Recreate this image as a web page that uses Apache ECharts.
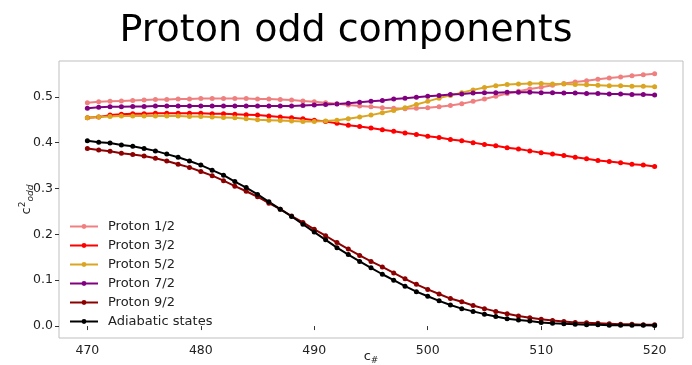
<!DOCTYPE html>
<html><head><meta charset="utf-8">
<script src="https://cdn.jsdelivr.net/npm/echarts@6/dist/echarts.min.js"></script>
<style>html,body{margin:0;padding:0;background:#fff}#c{width:692px;height:365px}</style>
</head><body><div id="c"></div>
<script>
var cValues = [470,471,472,473,474,475,476,477,478,479,480,481,482,483,484,485,486,487,488,489,490,491,492,493,494,495,496,497,498,499,500,501,502,503,504,505,506,507,508,509,510,511,512,513,514,515,516,517,518,519,520];
var proton12 = [0.487,0.489,0.490,0.491,0.492,0.493,0.494,0.494,0.495,0.495,0.496,0.496,0.496,0.496,0.496,0.495,0.495,0.494,0.493,0.491,0.489,0.487,0.485,0.482,0.480,0.478,0.476,0.475,0.474,0.475,0.476,0.478,0.481,0.485,0.490,0.495,0.501,0.507,0.512,0.517,0.521,0.525,0.529,0.532,0.535,0.538,0.541,0.543,0.546,0.548,0.550];
var proton32 = [0.454,0.456,0.460,0.462,0.463,0.463,0.464,0.464,0.464,0.464,0.464,0.463,0.463,0.462,0.461,0.460,0.458,0.456,0.454,0.452,0.449,0.446,0.442,0.438,0.435,0.432,0.428,0.425,0.421,0.418,0.414,0.411,0.407,0.404,0.400,0.396,0.393,0.389,0.386,0.382,0.378,0.375,0.372,0.368,0.365,0.361,0.359,0.356,0.353,0.351,0.348];
var proton52 = [0.454,0.456,0.457,0.458,0.458,0.458,0.458,0.458,0.458,0.457,0.457,0.456,0.455,0.454,0.452,0.450,0.449,0.448,0.447,0.446,0.446,0.447,0.449,0.452,0.456,0.460,0.465,0.470,0.476,0.483,0.490,0.497,0.503,0.509,0.515,0.520,0.524,0.527,0.528,0.529,0.529,0.528,0.528,0.527,0.526,0.525,0.524,0.524,0.523,0.523,0.522];
var proton72 = [0.475,0.477,0.478,0.478,0.479,0.479,0.480,0.480,0.480,0.480,0.480,0.480,0.480,0.480,0.480,0.480,0.480,0.480,0.480,0.481,0.482,0.483,0.484,0.486,0.488,0.490,0.492,0.495,0.497,0.499,0.501,0.503,0.505,0.506,0.508,0.509,0.509,0.510,0.510,0.510,0.509,0.509,0.508,0.508,0.507,0.507,0.506,0.506,0.505,0.505,0.504];
var proton92 = [0.387,0.384,0.381,0.377,0.374,0.371,0.366,0.360,0.353,0.346,0.337,0.328,0.317,0.305,0.294,0.282,0.268,0.255,0.240,0.226,0.211,0.197,0.182,0.168,0.154,0.141,0.129,0.116,0.103,0.091,0.080,0.070,0.060,0.053,0.045,0.038,0.032,0.027,0.022,0.018,0.015,0.012,0.010,0.008,0.007,0.006,0.005,0.004,0.004,0.003,0.003];
var adiabatic = [0.404,0.401,0.399,0.395,0.392,0.387,0.382,0.375,0.368,0.360,0.351,0.340,0.329,0.315,0.302,0.287,0.271,0.255,0.239,0.222,0.205,0.188,0.171,0.156,0.141,0.127,0.113,0.100,0.087,0.075,0.065,0.055,0.046,0.038,0.032,0.026,0.021,0.016,0.013,0.011,0.008,0.006,0.005,0.004,0.003,0.003,0.002,0.002,0.002,0.002,0.0015];
var seriesNames = ['Proton 1/2','Proton 3/2','Proton 5/2','Proton 7/2','Proton 9/2','Adiabatic states'];
var seriesColors = ['#F08080','#FF0000','#DAA520','#800080','#8B0000','#000000'];
var xTicks = [470,480,490,500,510,520];
var yTicks = [0.0,0.1,0.2,0.3,0.4,0.5];

var allData = [proton12, proton32, proton52, proton72, proton92, adiabatic];
var FONT = 'DejaVu Sans';
var series = allData.map(function(arr, i){
  return {
    name: seriesNames[i], type: 'line',
    data: arr.map(function(v, j){ return [cValues[j], v]; }),
    symbol: 'circle', symbolSize: 5, showSymbol: true,
    lineStyle: {width: 2, color: seriesColors[i]},
    itemStyle: {color: seriesColors[i]},
    emphasis: {disabled: true}, animation: false
  };
});
var chart = echarts.init(document.getElementById('c'), null, {renderer: 'canvas'});
chart.setOption({
  animation: false,
  backgroundColor: '#fff',
  title: {text: 'Proton odd components', left: 'center', top: 7,
    textStyle: {fontFamily: FONT, fontSize: 38, fontWeight: 'normal', color: '#000'}},
  grid: {left: 59, right: 9, top: 61, bottom: 27, show: true, borderColor: '#bfbfbf', borderWidth: 1, containLabel: false, outerBoundsMode: 'none'},
  legend: {
    orient: 'vertical', left: 69, top: 220, padding: 0,
    itemWidth: 28, itemHeight: 6, itemGap: 6,
    textStyle: {fontFamily: FONT, fontSize: 13, color: '#222', padding: [0,0,0,5]},
    data: seriesNames
  },
  xAxis: {
    type: 'value', min: 467.5, max: 522.5,
    name: '{a|c}{s|#}', nameLocation: 'middle', nameGap: 10, nameMoveOverlap: false,
    nameTextStyle: {rich: {a: {fontFamily: FONT, fontSize: 13, color: '#222'}, s: {fontFamily: FONT, fontSize: 9, color: '#222', padding: [8,0,0,0]}}},
    axisLine: {show: false},
    splitLine: {show: false},
    axisTick: {show: true, inside: false, length: 4, lineStyle: {color: '#333'}, customValues: xTicks},
    axisLabel: {fontFamily: FONT, fontSize: 12.5, color: '#222', margin: 6, customValues: xTicks}
  },
  yAxis: {
    type: 'value', min: -0.026, max: 0.578,
    name: '{a|c}{p|2}{s|odd}', nameLocation: 'middle', nameGap: 24, nameRotate: 90, nameMoveOverlap: false,
    nameTextStyle: {rich: {a: {fontFamily: FONT, fontSize: 13, color: '#222'}, p: {fontFamily: FONT, fontSize: 9, color: '#222', padding: [0,0,8,0]}, s: {fontFamily: FONT, fontSize: 9, fontStyle: 'italic', color: '#222', padding: [8,0,0,0]}}},
    axisLine: {show: false},
    splitLine: {show: false},
    axisTick: {show: true, inside: false, length: 4, lineStyle: {color: '#333'}, customValues: yTicks},
    axisLabel: {fontFamily: FONT, fontSize: 12.5, color: '#222', margin: 6, customValues: yTicks,
      formatter: function(v){ return v.toFixed(1); }}
  },
  series: series
});
</script></body></html>
